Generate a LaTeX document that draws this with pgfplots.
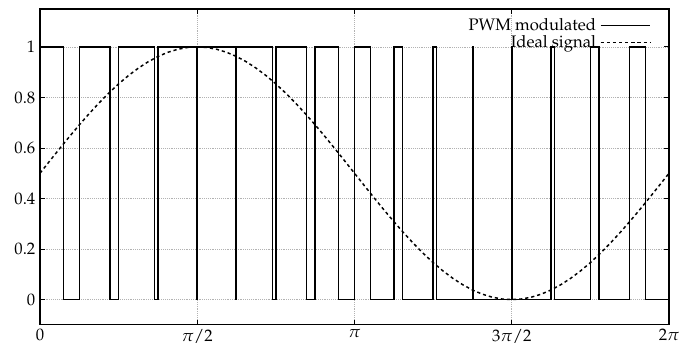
\documentclass[border=0pt]{standalone}
\usepackage[T1]{fontenc}
\usepackage{mathpazo}
\usepackage{pgfplots}
\pgfplotsset{compat=1.18}
\begin{document}
\begin{tikzpicture}
\begin{axis}[
  name=ax,
  scale only axis,
  width=472pt, height=237pt,
  xmin=0, xmax=6.283185, ymin=-0.1, ymax=1.15,
  xtick={0,1.570796,3.141593,4.712389,6.283185},
  xticklabels={$0$,$\pi/2$,$\pi$,$3\pi/2$,$2\pi$},
  ytick={0,0.2,0.4,0.6,0.8,1},
  grid=major,
  grid style={densely dotted, gray!60, line width=0.4pt},
  tick align=inside,
  major tick length=4pt,
  tick style={black, line width=0.6pt},
  axis line style={line width=0.8pt},
  /pgf/number format/assume math mode=true,
  ticklabel style={font=\fontsize{12.5}{14}\selectfont},
  legend style={at={(1,1)}, anchor=north east, xshift=-13.5pt, yshift=-5pt,
    draw=none, fill=none, inner sep=0pt, row sep=-2pt,
    font=\fontsize{12.5}{14}\selectfont,
    nodes={inner xsep=3pt}},
  legend cell align=right,
  legend plot pos=right,
  legend image code/.code={\draw[#1] (0pt,0pt) -- (37pt,0pt);},
]
\addplot[black, line width=1.1pt, line join=miter] coordinates {
(0,1) (0.2346,1) (0.2346,0) (0.3927,0)
(0.3927,1) (0.6981,1) (0.6981,0) (0.7854,0)
(0.7854,1) (1.1450,1) (1.1450,0) (1.1781,0)
(1.1781,1) (1.5670,1) (1.5670,0) (1.5708,0)
(1.5708,1) (1.9597,1) (1.9597,0) (1.9635,0)
(1.9635,1) (2.3231,1) (2.3231,0) (2.3562,0)
(2.3562,1) (2.6616,1) (2.6616,0) (2.7489,0)
(2.7489,1) (2.9836,1) (2.9836,0) (3.1416,0)
(3.1416,1) (3.2997,1) (3.2997,0) (3.5343,0)
(3.5343,1) (3.6216,1) (3.6216,0) (3.9270,0)
(3.9270,1) (3.9601,1) (3.9601,0) (4.3197,0)
(4.3197,1) (4.3235,1) (4.3235,0) (4.7124,0)
(4.7124,1) (4.7162,1) (4.7162,0) (5.1051,0)
(5.1051,1) (5.1382,1) (5.1382,0) (5.4978,0)
(5.4978,1) (5.5851,1) (5.5851,0) (5.8905,0)
(5.8905,1) (6.0486,1) (6.0486,0) (6.2832,0)
};
\addlegendentry{PWM modulated}
\addplot[black, line width=1.1pt, dash pattern=on 2.4pt off 2.2pt] coordinates {
(0,0.5) (0.0982,0.5490) (0.1963,0.5975) (0.2945,0.6451) (0.3927,0.6913)
(0.4909,0.7357) (0.5890,0.7778) (0.6872,0.8172) (0.7854,0.8536)
(0.8836,0.8865) (0.9817,0.9157) (1.0799,0.9410) (1.1781,0.9619)
(1.2763,0.9785) (1.3744,0.9904) (1.4726,0.9976) (1.5708,1.0)
(1.6690,0.9976) (1.7671,0.9904) (1.8653,0.9785) (1.9635,0.9619)
(2.0617,0.9410) (2.1598,0.9157) (2.2580,0.8865) (2.3562,0.8536)
(2.4544,0.8172) (2.5525,0.7778) (2.6507,0.7357) (2.7489,0.6913)
(2.8471,0.6451) (2.9452,0.5975) (3.0434,0.5490) (3.1416,0.5)
(3.2398,0.4510) (3.3379,0.4025) (3.4361,0.3549) (3.5343,0.3087)
(3.6325,0.2643) (3.7306,0.2222) (3.8288,0.1828) (3.9270,0.1464)
(4.0252,0.1135) (4.1233,0.0843) (4.2215,0.0590) (4.3197,0.0381)
(4.4179,0.0215) (4.5160,0.0096) (4.6142,0.0024) (4.7124,0)
(4.8106,0.0024) (4.9087,0.0096) (5.0069,0.0215) (5.1051,0.0381)
(5.2033,0.0590) (5.3014,0.0843) (5.3996,0.1135) (5.4978,0.1464)
(5.5960,0.1828) (5.6941,0.2222) (5.7923,0.2643) (5.8905,0.3087)
(5.9887,0.3549) (6.0868,0.4025) (6.1850,0.4510) (6.2832,0.5)
};
\addlegendentry{Ideal signal}
\end{axis}
\pgfresetboundingbox
\path ([xshift=-30pt,yshift=-19.5pt]ax.south west) rectangle ([xshift=10.5pt,yshift=6.75pt]ax.north east);
\end{tikzpicture}
\end{document}
